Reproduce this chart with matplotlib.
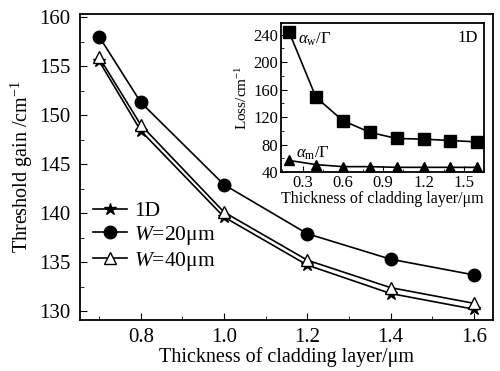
import numpy as np
import matplotlib
matplotlib.use("Agg")
import matplotlib.pyplot as plt
from matplotlib.ticker import MultipleLocator

plt.rcParams['font.family'] = ['Liberation Serif', 'DejaVu Serif']
plt.rcParams['mathtext.fontset'] = 'custom'
plt.rcParams['mathtext.rm'] = 'Liberation Serif'
plt.rcParams['mathtext.it'] = 'Liberation Serif:italic'

# main chart data
thickness = [0.7, 0.8, 1.0, 1.2, 1.4, 1.6]
gain_1d = [155.5, 148.4, 139.6, 134.7, 131.8, 130.2]
gain_w20 = [158.0, 151.3, 142.9, 137.9, 135.3, 133.7]
gain_w40 = [155.9, 149.0, 140.1, 135.2, 132.4, 130.8]

# inset data
inset_thickness = [0.2, 0.4, 0.6, 0.8, 1.0, 1.2, 1.4, 1.6]
loss_w = [244, 149, 115, 98, 89, 88, 86, 84]
loss_m = [57, 51, 48, 48, 47, 47, 47, 47]

fig = plt.figure(figsize=(5, 3.71), dpi=100)
ax = fig.add_axes([0.16, 0.1375, 0.826, 0.8245])

ax.plot(thickness, gain_1d, color='black', lw=1.2, marker='*', ms=9, label='1D')
ax.plot(thickness, gain_w20, color='black', lw=1.2, marker='o', ms=9, label='$W$=20\u03bcm')
ax.plot(thickness, gain_w40, color='black', lw=1.2, marker='^', ms=8,
        mfc='white', mec='black', label='$W$=40\u03bcm')

ax.set_xlim(0.654, 1.646)
ax.set_ylim(129.1, 160.3)
ax.xaxis.set_major_locator(MultipleLocator(0.2))
ax.xaxis.set_minor_locator(MultipleLocator(0.1))
ax.yaxis.set_major_locator(MultipleLocator(5))
ax.yaxis.set_minor_locator(MultipleLocator(2.5))
ax.tick_params(which='both', direction='in', labelsize=15)
ax.tick_params(axis='y', pad=7)
ax.tick_params(axis='x', pad=6)
ax.tick_params(which='major', length=5)
ax.tick_params(which='minor', length=3)
for s in ax.spines.values():
    s.set_linewidth(1.3)
ax.set_xlabel('Thickness of cladding layer/\u03bcm', fontsize=14.5, labelpad=0)
ax.set_ylabel('Threshold gain /cm$^{-1}$', fontsize=14.5, labelpad=3)

ax.legend(loc='upper left', bbox_to_anchor=(0.0, 0.43), frameon=False, fontsize=15.5,
          handlelength=1.6, handletextpad=0.3, labelspacing=0.12, borderaxespad=0.2)

# inset
ins = fig.add_axes([0.562, 0.536, 0.406, 0.402])
ins.plot(inset_thickness, loss_w, color='black', lw=1.2, marker='s', ms=8)
ins.plot(inset_thickness, loss_m, color='black', lw=1.2, marker='^', ms=7)
ins.set_xlim(0.14, 1.65)
ins.set_ylim(40, 257)
ins.xaxis.set_major_locator(MultipleLocator(0.3))
ins.xaxis.set_minor_locator(MultipleLocator(0.15))
ins.yaxis.set_major_locator(MultipleLocator(40))
ins.yaxis.set_minor_locator(MultipleLocator(20))
ins.tick_params(which='both', direction='in', labelsize=12, pad=2)
ins.tick_params(which='major', length=4)
ins.tick_params(which='minor', length=2)
for s in ins.spines.values():
    s.set_linewidth(1.3)
ins.set_xlabel('Thickness of cladding layer/\u03bcm', fontsize=11.5, labelpad=0)
ins.set_ylabel('Loss/cm$^{-1}$', fontsize=11, labelpad=2)
ins.text(0.27, 234, r'$\alpha_{\mathrm{w}}/\mathit{\Gamma}$', fontsize=12, va='center')
ins.text(0.25, 68, r'$\alpha_{\mathrm{m}}/\mathit{\Gamma}$', fontsize=12, va='center')
ins.text(0.97, 0.95, '1D', transform=ins.transAxes, fontsize=12, ha='right', va='top')

fig.savefig('out.png', dpi=100)
